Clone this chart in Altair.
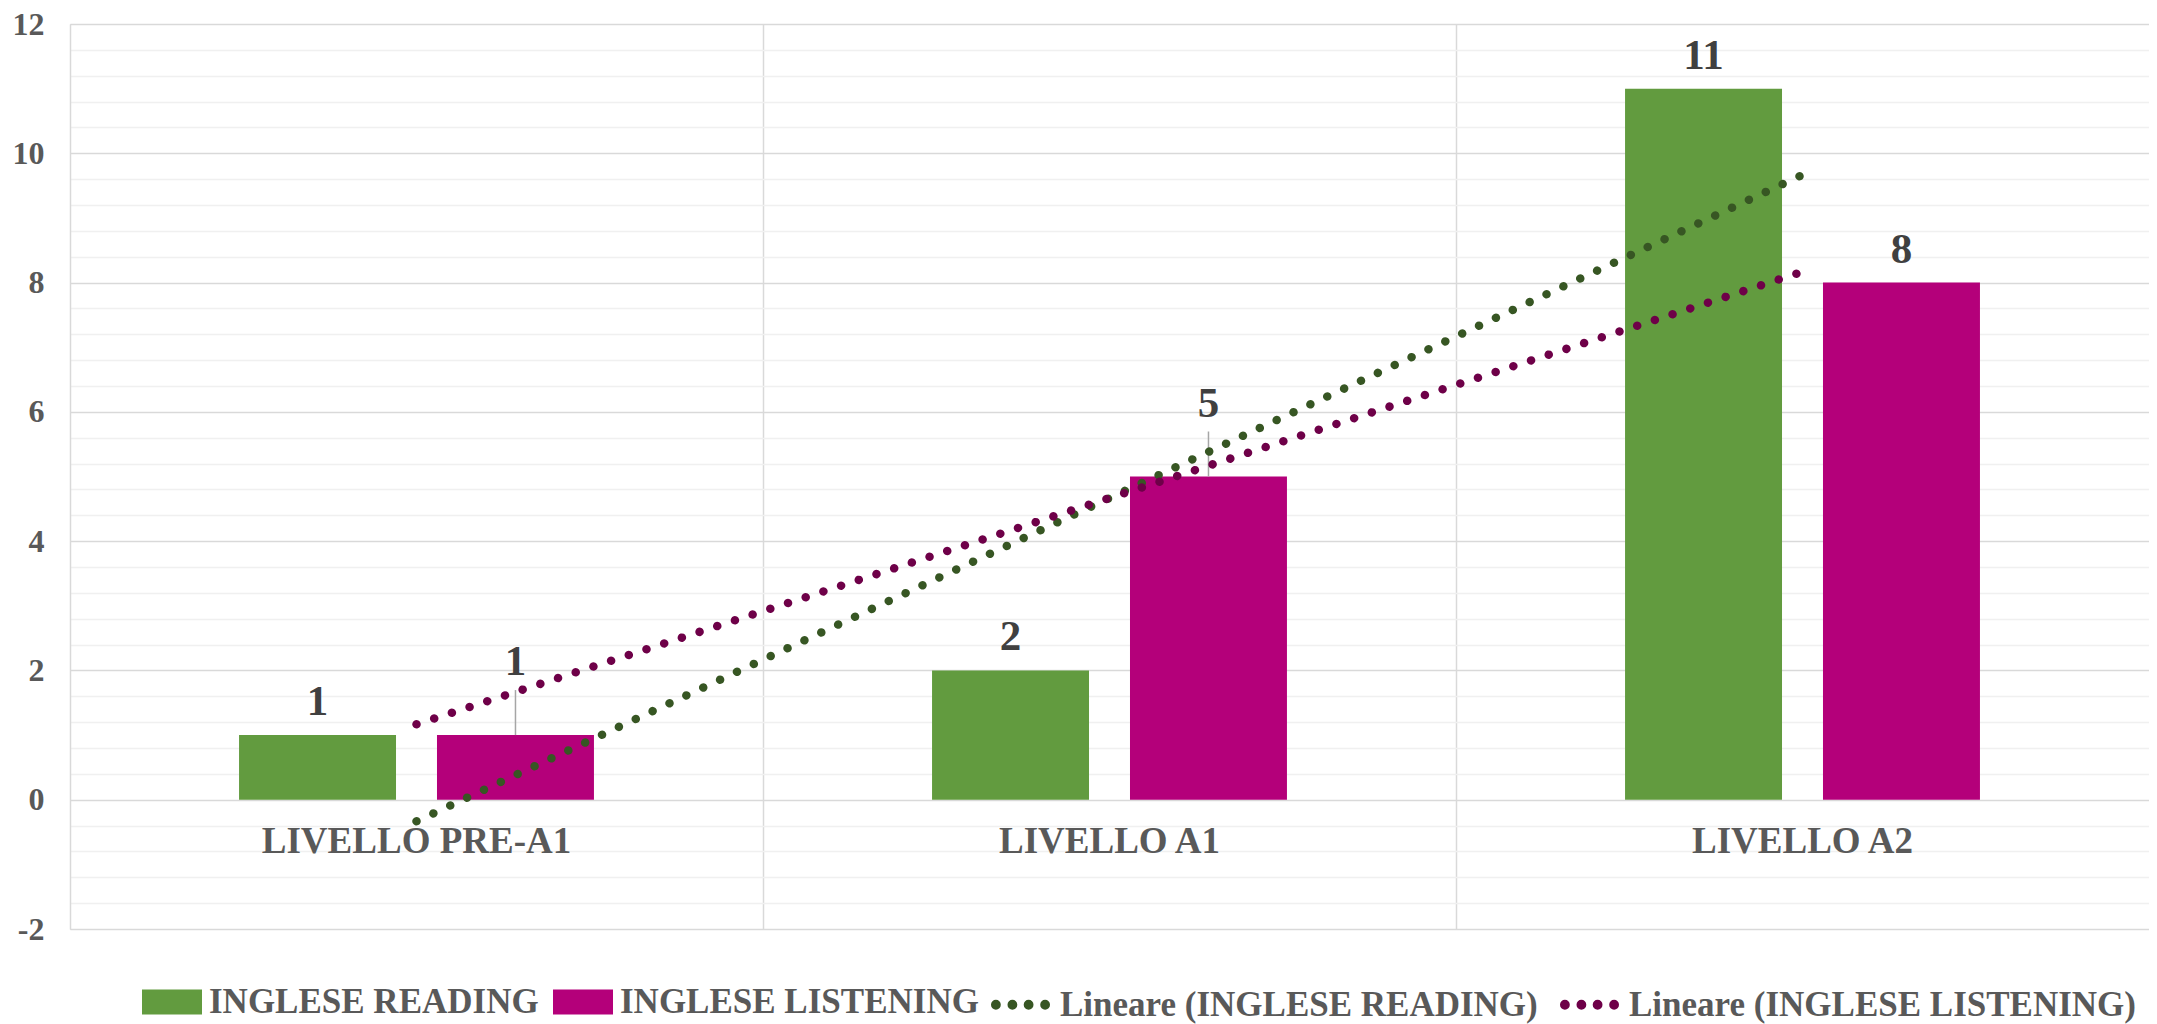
import altair as alt
import pandas as pd

# ---- data ----
livelli = ["LIVELLO PRE-A1", "LIVELLO A1", "LIVELLO A2"]
inglese_reading = [1, 2, 11]
inglese_listening = [1, 5, 8]
serie_nomi = ["INGLESE READING", "INGLESE LISTENING"]
trend_nomi = ["Lineare (INGLESE READING)", "Lineare (INGLESE LISTENING)"]
y_ticks = [-2, 0, 2, 4, 6, 8, 10, 12]

colori_barre = ["#629B3F", "#B4007A"]
colori_trend = ["#375623", "#6E0048"]

FONT = "Liberation Serif"
AXIS_GREY = "#595959"
LABEL_DARK = "#404040"

rows = []
for i, liv in enumerate(livelli):
    rows.append({"livello": liv, "idx": i + 1, "serie": serie_nomi[0], "valore": inglese_reading[i]})
    rows.append({"livello": liv, "idx": i + 1, "serie": serie_nomi[1], "valore": inglese_listening[i]})
df = pd.DataFrame(rows)

minor_ticks = [round(-2 + 0.4 * k, 1) for k in range(36)]
minor_ticks = [v for v in minor_ticks if abs(v / 2 - round(v / 2)) > 1e-6]

W, H = 2079, 905
zero_from_bottom = round(H * 2 / 14)

sq = "M-1,-0.42L1,-0.42L1,0.42L-1,0.42Z"
r = 0.08
dots = ""
for cx in [-0.82, -0.27, 0.27, 0.82]:
    dots += f"M{cx - r:.2f},0A{r},{r} 0 1,0 {cx + r:.2f},0A{r},{r} 0 1,0 {cx - r:.2f},0Z"

common_legend = dict(
    title=None,
    orient="none",
    direction="horizontal",
    legendY=948,
    symbolSize=3600,
    labelFont=FONT,
    labelFontSize=35,
    labelFontWeight="bold",
    labelColor=AXIS_GREY,
    labelLimit=1000,
    labelOffset=7,
    columnPadding=14,
)

y_scale = alt.Scale(domain=[-2, 12], nice=False, zero=False)


def x_cat(axis=None):
    if axis is None:
        return alt.X("livello:N", sort=livelli)
    return alt.X("livello:N", sort=livelli, scale=alt.Scale(paddingInner=0, paddingOuter=0), axis=axis)


def x_off(with_scale=False):
    if with_scale:
        return alt.XOffset("serie:N", sort=serie_nomi,
                           scale=alt.Scale(paddingInner=0.207, paddingOuter=0.854))
    return alt.XOffset("serie:N", sort=serie_nomi)


x_axis = alt.Axis(
    orient="bottom", title=None, labelAngle=0, domain=False, ticks=False, grid=False,
    offset=-zero_from_bottom, labelPadding=23, labelFont=FONT, labelFontSize=37,
    labelFontWeight="bold", labelColor=AXIS_GREY, labelLimit=1000,
)

bars = alt.Chart(df).mark_bar().encode(
    x=x_cat(x_axis),
    xOffset=x_off(True),
    y=alt.Y(
        "valore:Q", scale=y_scale,
        axis=alt.Axis(
            orient="left", values=y_ticks, title=None, grid=True, gridColor="#d9d9d9",
            gridWidth=1.5, domain=True, domainColor="#d9d9d9", domainWidth=1.5, ticks=False,
            labelPadding=26, labelFont=FONT, labelFontSize=32, labelFontWeight="bold",
            labelColor=AXIS_GREY, labelExpr="'' + datum.value",
        ),
    ),
    color=alt.Color(
        "serie:N",
        scale=alt.Scale(domain=serie_nomi, range=colori_barre),
        legend=alt.Legend(symbolType=sq, symbolStrokeWidth=0, legendX=72, **common_legend),
    ),
)

is_callout = "datum.serie == 'INGLESE LISTENING' && (datum.livello == 'LIVELLO PRE-A1' || datum.livello == 'LIVELLO A1')"

labels = alt.Chart(df).transform_filter("!(" + is_callout + ")").mark_text(
    dy=-20, baseline="alphabetic", font=FONT, fontSize=43, fontWeight="bold", color=LABEL_DARK
).encode(x=x_cat(), xOffset=x_off(), y="valore:Q", text="valore:Q")

callout_labels = alt.Chart(df).transform_filter(is_callout).mark_text(
    dy=-60, baseline="alphabetic", font=FONT, fontSize=43, fontWeight="bold", color=LABEL_DARK
).encode(x=x_cat(), xOffset=x_off(), y="valore:Q", text="valore:Q")

leaders = alt.Chart(df).transform_filter(is_callout).mark_rule(
    color="#a6a6a6", strokeWidth=1.5, y2Offset=-45
).encode(x=x_cat(), xOffset=x_off(), y="valore:Q", y2="valore:Q")

trend = alt.Chart(df).transform_regression(
    "idx", "valore", groupby=["serie"], method="linear", extent=[1, 3]
).transform_calculate(
    trend="'Lineare (' + datum.serie + ')'"
).mark_line(strokeWidth=8.5, strokeDash=[0.01, 18.6], strokeCap="round").encode(
    x=alt.X(
        "idx:Q", scale=alt.Scale(domain=[0.5, 3.5], nice=False, zero=False),
        axis=alt.Axis(orient="top", values=[1.5, 2.5], grid=True, gridColor="#d9d9d9",
                      gridWidth=1.5, labels=False, ticks=False, domain=False, title=None),
    ),
    y=alt.Y(
        "valore:Q",
        axis=alt.Axis(orient="right", values=minor_ticks, grid=True, gridColor="#f0f0f0",
                      gridWidth=1.5, labels=False, ticks=False, domain=False, title=None),
    ),
    stroke=alt.Stroke(
        "trend:N",
        scale=alt.Scale(domain=trend_nomi, range=colori_trend),
        legend=alt.Legend(symbolType=dots, symbolStrokeWidth=5, symbolDash=[100, 0],
                          legendX=918, **common_legend),
    ),
)

inner = alt.layer(bars, leaders, labels, callout_labels)

chart = alt.layer(inner, trend).resolve_scale(x="independent").resolve_axis(
    y="independent", x="independent"
).properties(
    width=W, height=H,
    padding={"left": 62, "top": 16, "right": 0, "bottom": 95},
    autosize=alt.AutoSizeParams(type="none"),
).configure_view(stroke=None).configure(background="white")

chart.save("out.html", embed_options={"renderer": "svg", "actions": False})
